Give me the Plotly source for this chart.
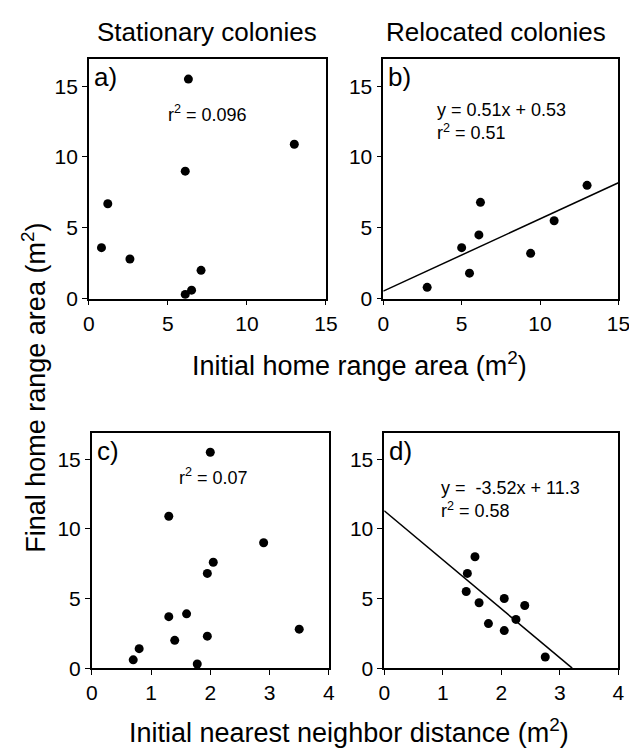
import plotly.graph_objects as go

# ---- data ----
a_x = [0.8, 1.2, 2.6, 6.1, 6.3, 6.1, 6.5, 7.1, 13.0]
a_y = [3.6, 6.7, 2.8, 9.0, 15.5, 0.3, 0.6, 2.0, 10.9]

b_x = [2.8, 5.0, 5.5, 6.1, 6.2, 9.4, 10.9, 13.0]
b_y = [0.8, 3.6, 1.8, 4.5, 6.8, 3.2, 5.5, 8.0]
b_slope, b_int = 0.51, 0.53

c_x = [0.7, 0.8, 1.3, 1.4, 1.6, 1.78, 1.95, 1.95, 2.05, 2.0, 1.3, 2.9, 3.5]
c_y = [0.6, 1.4, 3.7, 2.0, 3.9, 0.3, 2.3, 6.8, 7.6, 15.5, 10.9, 9.0, 2.8]

d_x = [1.55, 1.42, 1.4, 2.05, 1.62, 2.4, 2.25, 1.78, 2.05, 2.75]
d_y = [8.0, 6.8, 5.5, 5.0, 4.7, 4.5, 3.5, 3.2, 2.7, 0.8]
d_slope, d_int = -3.52, 11.3

x_ticks_top = [0, 5, 10, 15]
x_ticks_bottom = [0, 1, 2, 3, 4]
y_ticks = [0, 5, 10, 15]

col_titles = ["Stationary colonies", "Relocated colonies"]
panel_labels = ["a)", "b)", "c)", "d)"]
stat_texts = ["r<sup>2</sup> = 0.096",
              "y = 0.51x + 0.53<br>r<sup>2</sup> = 0.51",
              "r<sup>2</sup> = 0.07",
              "y =  -3.52x + 11.3<br>r<sup>2</sup> = 0.58"]
x_title_top = "Initial home range area (m<sup>2</sup>)"
x_title_bottom = "Initial nearest neighbor distance (m<sup>2</sup>)"
y_title = "Final home range area (m<sup>2</sup>)"

W, H = 637, 751
FONT = "Liberation Sans, Arial, Helvetica, sans-serif"

def px(x):
    return x / W

def py(y):
    return 1 - y / H

# panel boxes in pixels: (left, right, top, bottom)
boxes = {
    1: (77, 321, 52, 295),
    2: (380, 622, 52, 295),
    3: (80, 324, 431, 670),
    4: (381, 622, 431, 670),
}
Y_MAX = 16.9

fig = go.Figure()
marker = dict(color="black", size=9)

def add_pts(xs, ys, n):
    fig.add_trace(go.Scatter(x=xs, y=ys, mode="markers", marker=marker,
                             xaxis="x" if n == 1 else f"x{n}",
                             yaxis="y" if n == 1 else f"y{n}",
                             showlegend=False, hoverinfo="skip"))

add_pts(a_x, a_y, 1)
add_pts(b_x, b_y, 2)
add_pts(c_x, c_y, 3)
add_pts(d_x, d_y, 4)

# regression lines
bl_x = [0, 15]
fig.add_trace(go.Scatter(x=bl_x, y=[b_slope * v + b_int for v in bl_x], mode="lines",
                         line=dict(color="black", width=1.5), xaxis="x2", yaxis="y2",
                         showlegend=False, hoverinfo="skip"))
d_end = -d_int / d_slope
dl_x = [0, d_end]
fig.add_trace(go.Scatter(x=dl_x, y=[d_slope * v + d_int for v in dl_x], mode="lines",
                         line=dict(color="black", width=1.5), xaxis="x4", yaxis="y4",
                         showlegend=False, hoverinfo="skip"))

axis_common = dict(showline=True, linecolor="black", linewidth=1.5, mirror=True,
                   ticks="outside", ticklen=5, tickwidth=1.2, tickcolor="black",
                   showgrid=False, zeroline=False,
                   tickfont=dict(family=FONT, size=21, color="black"))

layout = dict(width=W, height=H, margin=dict(l=0, r=0, t=0, b=0),
              paper_bgcolor="white", plot_bgcolor="white",
              font=dict(family=FONT, color="black"))

for n, (l, r, t, b) in boxes.items():
    xk = "xaxis" if n == 1 else f"xaxis{n}"
    yk = "yaxis" if n == 1 else f"yaxis{n}"
    xa = "x" if n == 1 else f"x{n}"
    ya = "y" if n == 1 else f"y{n}"
    if n in (1, 2):
        xr, xt = [0, 15], x_ticks_top
    else:
        xr, xt = [0, 4], x_ticks_bottom
    layout[xk] = dict(axis_common, domain=[px(l), px(r)], range=xr, tickvals=xt,
                      anchor=ya)
    layout[yk] = dict(axis_common, domain=[py(b), py(t)], range=[0, Y_MAX],
                      tickvals=y_ticks, anchor=xa)

fig.update_layout(**layout)

ann = []
# column titles
for (x, y), t in zip([(199, 24), (496, 24)], col_titles):
    ann.append(dict(x=px(x), y=py(y), text=t, xref="paper", yref="paper", showarrow=False,
                    font=dict(family=FONT, size=26, color="black"),
                    xanchor="center", yanchor="middle"))

# panel labels
lab_pos = [(80, 70), (383, 70), (83, 450), (384, 450)]
for (x, y), t in zip(lab_pos, panel_labels):
    ann.append(dict(x=px(x), y=py(y), text=t, xref="paper", yref="paper", showarrow=False,
                    xanchor="left", yanchor="middle",
                    font=dict(family=FONT, size=26, color="black")))

# stats text
stat_pos = [(156, 107), (433, 115), (168, 475), (437, 499)]
for (x, y), t in zip(stat_pos, stat_texts):
    ann.append(dict(x=px(x), y=py(y), text=t, xref="paper", yref="paper", showarrow=False,
                    xanchor="left", yanchor="middle", align="left",
                    font=dict(family=FONT, size=18, color="black")))

# axis titles
ann.append(dict(x=px(356), y=py(361), text=x_title_top, xref="paper", yref="paper",
                showarrow=False, xanchor="center", yanchor="middle",
                font=dict(family=FONT, size=27, color="black")))
ann.append(dict(x=px(345), y=py(734), text=x_title_bottom, xref="paper", yref="paper",
                showarrow=False, xanchor="center", yanchor="middle",
                font=dict(family=FONT, size=27, color="black")))
ann.append(dict(x=px(21), y=py(385), text=y_title, xref="paper", yref="paper",
                showarrow=False, xanchor="center", yanchor="middle", textangle=-90,
                font=dict(family=FONT, size=27, color="black")))

fig.update_layout(annotations=ann)
fig.write_html("out.html")
